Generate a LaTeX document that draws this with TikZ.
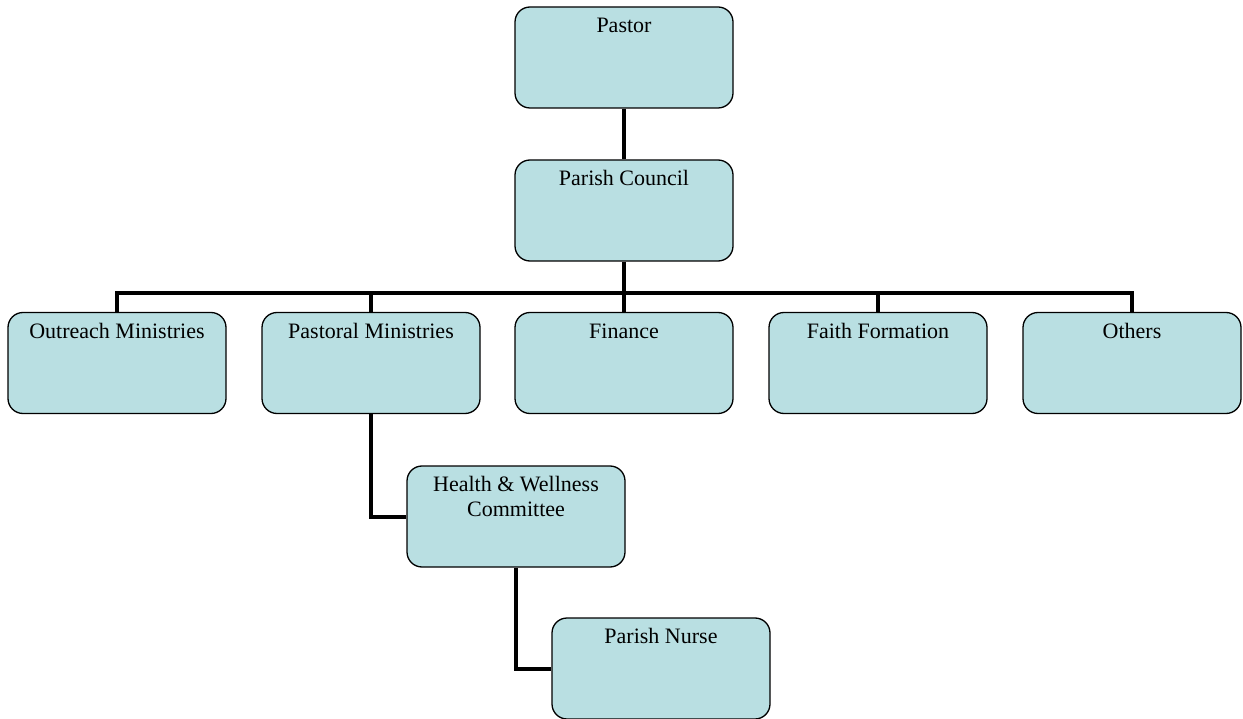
\documentclass[tikz,border=0pt]{standalone}
\usepackage{fontspec}
\setmainfont{Liberation Serif}
\definecolor{boxfill}{RGB}{185,223,226}
\begin{document}
\begin{tikzpicture}[x=1pt,y=-1pt,
  orgbox/.style={draw=black, line width=1.3pt, fill=boxfill, rounded corners=15pt,
    minimum width=218pt, minimum height=101pt, inner sep=0pt},
  boxtext/.style={anchor=north, inner sep=0pt, align=center,
    font=\fontsize{22}{25}\selectfont},
  link/.style={line width=4pt}]
\useasboundingbox (0,0) rectangle (1243,719);
\node[orgbox] (pastor) at (624,57.5) {};
\node[orgbox] (council) at (624,210.5) {};
\node[orgbox] (outreach) at (117,363) {};
\node[orgbox] (pastoral) at (371,363) {};
\node[orgbox] (finance) at (624,363) {};
\node[orgbox] (faith) at (878,363) {};
\node[orgbox] (others) at (1132,363) {};
\node[orgbox] (hw) at (516,516.5) {};
\node[orgbox] (nurse) at (661,668.5) {};
\coordinate (bus) at (624,293);
\foreach \n/\t in {pastor/Pastor, council/Parish Council, outreach/Outreach Ministries,
  pastoral/Pastoral Ministries, finance/Finance, faith/Faith Formation, others/Others,
  hw/{Health \& Wellness\\Committee}, nurse/Parish Nurse}
  \node[boxtext] (\n-t) at ([yshift=-11pt]\n.north) {\vphantom{h}\t};
\draw[link] (pastor.south) -- (council.north);
\draw[link] (council.south) -- (bus);
\draw[link] (outreach.north) -- (outreach.north |- bus) -- (others.north |- bus) -- (others.north);
\draw[link] (pastoral.north) -- (pastoral.north |- bus);
\draw[link] (finance.north) -- (finance.north |- bus);
\draw[link] (faith.north) -- (faith.north |- bus);
\draw[link] (pastoral.south) |- (hw.west);
\draw[link] (hw.south) |- (nurse.west);
\end{tikzpicture}
\end{document}
